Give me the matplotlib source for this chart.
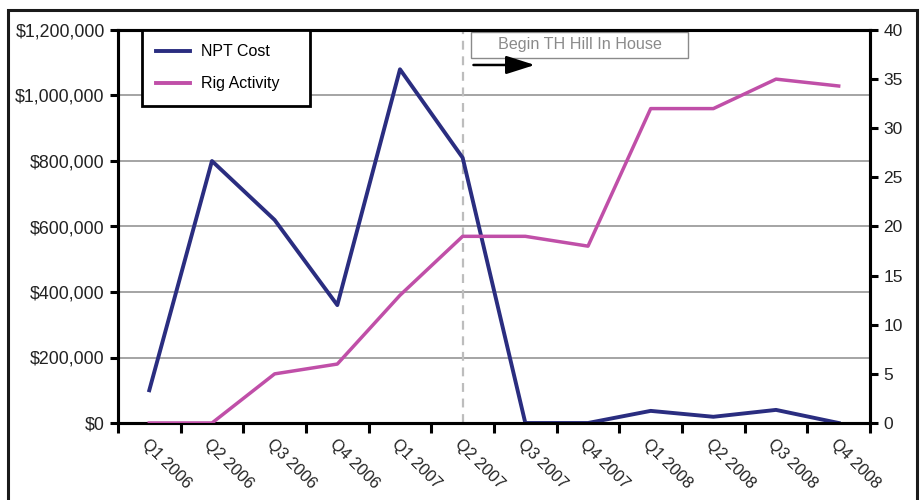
import matplotlib
matplotlib.use("Agg")
import matplotlib.pyplot as plt
from matplotlib.patches import Rectangle
from matplotlib.ticker import FuncFormatter
import numpy as np

plt.rcParams['font.family'] = ['Liberation Sans', 'DejaVu Sans']

quarters = ['Q1 2006', 'Q2 2006', 'Q3 2006', 'Q4 2006', 'Q1 2007', 'Q2 2007',
            'Q3 2007', 'Q4 2007', 'Q1 2008', 'Q2 2008', 'Q3 2008', 'Q4 2008']
npt_cost = [100000, 800000, 620000, 360000, 1080000, 810000,
            0, 0, 37000, 19000, 40000, 0]
rig_activity = [0, 0, 5, 6, 13, 19, 19, 18, 32, 32, 35, 34.3]
in_house_start = 'Q2 2007'

npt_color = '#2a2d80'
rig_color = '#c04fa8'

fig = plt.figure(figsize=(9.23, 5.0), dpi=100)
ax = fig.add_axes([0.1278, 0.154, 0.8148, 0.786])
ax2 = ax.twinx()

x = np.arange(len(quarters))

# cost on the left axis, rig count on the right
l1, = ax.plot(x, npt_cost, color=npt_color, lw=2.8, label='NPT Cost', zorder=4)
l2, = ax2.plot(x, rig_activity, color=rig_color, lw=2.5, label='Rig Activity', zorder=4)

ax.set_xlim(-0.5, len(quarters) - 0.5)
ax.set_ylim(0, 1200000)
ax2.set_ylim(0, 40)
ax.set_yticks(np.arange(0, 1200001, 200000))
ax2.set_yticks(np.arange(0, 41, 5))
ax.yaxis.set_major_formatter(FuncFormatter(lambda v, p: '${:,.0f}'.format(v)))

ax.grid(axis='y', color='#8c8c8c', lw=1.1)
ax.set_axisbelow(True)

# ticks between quarters, labels in the middle
ax.set_xticks(np.arange(-0.5, len(quarters), 1.0))
ax.set_xticklabels([])
ax.set_xticks(x, minor=True)
ax.set_xticklabels(quarters, minor=True, rotation=-45, ha='left', va='top',
                   rotation_mode='anchor', fontsize=11.8, color='#222222')
ax.tick_params(axis='x', which='minor', length=0, pad=10)
ax.tick_params(axis='x', which='major', length=7, width=2.2, direction='out')
ax.tick_params(axis='y', length=6, width=2.2, labelsize=12.8, labelcolor='#222222')
ax2.tick_params(axis='y', length=6, width=2.2, labelsize=12.5, labelcolor='#222222')

for a in (ax, ax2):
    for s in a.spines.values():
        s.set_linewidth(2.2)
        s.set_color('black')

# marker for the in-house switch
vx = quarters.index(in_house_start)
ax.axvline(vx, color='#bdbdbd', lw=1.6, ls=(0, (4, 3)), zorder=2)
ax.add_patch(Rectangle((0.469, 0.929), 0.289, 0.066, transform=ax.transAxes,
                       facecolor='white', edgecolor='#8a8a8a', lw=1.0, zorder=5))
ax.text(0.614, 0.962, 'Begin TH Hill In House', transform=ax.transAxes,
        ha='center', va='center', fontsize=11.6, color='#8a8a8a', zorder=6)
ax.annotate('', xy=(0.558, 0.911), xytext=(0.469, 0.911),
            xycoords='axes fraction', textcoords='axes fraction',
            arrowprops=dict(arrowstyle='-|>,head_length=1.1,head_width=0.35',
                            mutation_scale=16, color='black', lw=1.8), zorder=6)

leg = ax2.legend(handles=[l1, l2], loc='upper left',
                 bbox_to_anchor=(0.032, 0.80, 0.2234, 0.2), mode='expand',
                 fontsize=11.5, fancybox=False, framealpha=1, edgecolor='black',
                 handlelength=2.1, handletextpad=0.7, labelspacing=1.05,
                 borderpad=0.9, borderaxespad=0)
leg.get_frame().set_linewidth(2.0)
for h in leg.get_lines():
    h.set_linewidth(2.8)

# outer border round the whole chart
fig.patches.append(Rectangle((8 / 923, -0.1), 909 / 923, 1.08, transform=fig.transFigure,
                             fill=False, edgecolor='#1a1a1a', lw=2.2))

fig.savefig('out.png', dpi=100)
